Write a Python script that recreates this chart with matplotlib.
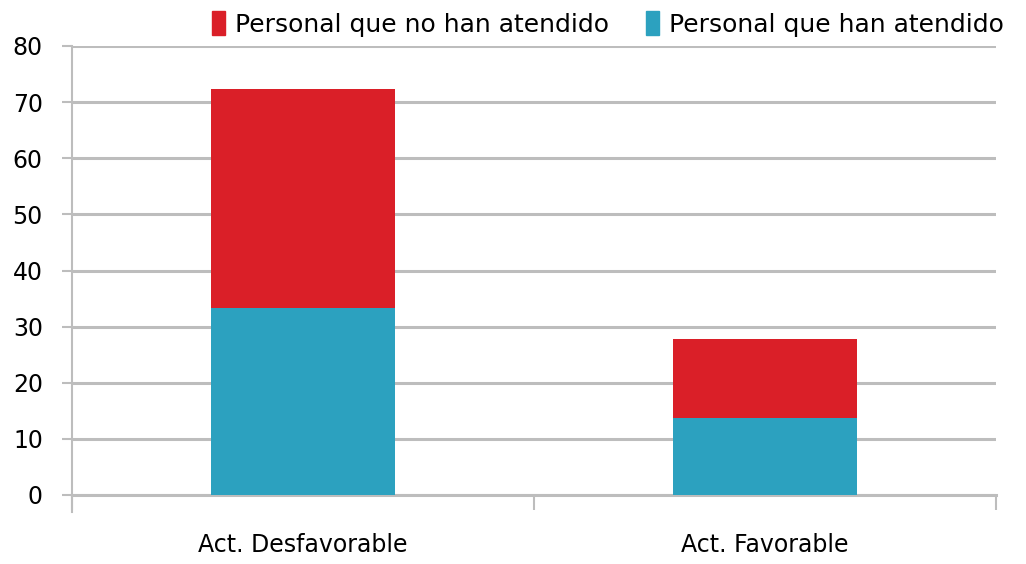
import matplotlib
matplotlib.use("Agg")
import matplotlib.pyplot as plt
from matplotlib.patches import Rectangle
from matplotlib.ticker import FixedLocator

categories = ["Act. Desfavorable", "Act. Favorable"]
atendido = [33.3, 13.8]
no_atendido = [39.0, 14.0]
series_names = ["Personal que no han atendido", "Personal que han atendido"]
yticks = [0, 10, 20, 30, 40, 50, 60, 70, 80]

RED = "#DA1F28"
BLUE = "#2CA1BF"
GRID = "#BDBDBD"

plt.rcParams['font.family'] = ['DejaVu Sans']

fig = plt.figure(figsize=(10.26, 5.64), dpi=100)
ax = fig.add_axes([72/1026, 1-495/564, (996-72)/1026, (495-46)/564])

x = list(range(len(categories)))
ax.bar(x, atendido, width=0.4, color=BLUE, zorder=3)
ax.bar(x, no_atendido, width=0.4, bottom=atendido, color=RED, zorder=3)

ax.set_xlim(-0.5, len(categories) - 0.5)
ax.set_ylim(0, 80)
ax.set_yticks(yticks)
ax.set_yticklabels([str(v) for v in yticks], fontsize=17)
ax.yaxis.grid(True, color=GRID, linewidth=2.2, zorder=0)
ax.set_axisbelow(True)

ax.set_xticks(x)
ax.set_xticklabels(categories, fontsize=17)
ax.xaxis.set_minor_locator(FixedLocator([i - 0.5 for i in range(len(categories) + 1)]))
ax.tick_params(axis='x', which='major', length=0, pad=27)
ax.tick_params(axis='x', which='minor', length=11, width=1.5, color=GRID)
ax.tick_params(axis='y', length=7, width=1.5, color=GRID, pad=14)

for s in ['top', 'right']:
    ax.spines[s].set_visible(False)
ax.spines['left'].set_color(GRID)
ax.spines['left'].set_linewidth(1.5)
ax.spines['bottom'].set_color(GRID)
ax.spines['bottom'].set_linewidth(2.2)
ax.spines['left'].set_bounds(-3, 80)
ax.spines['bottom'].set_zorder(1)

handles = [Rectangle((0, 0), 1, 1, color=RED), Rectangle((0, 0), 1, 1, color=BLUE)]
fig.legend(handles, series_names, loc='upper right', bbox_to_anchor=(1.0, 1.02),
           ncol=2, frameon=False, fontsize=18, handlelength=0.5, handleheight=1.1,
           handletextpad=0.4, columnspacing=1.5)

fig.savefig("out.png", dpi=100)
